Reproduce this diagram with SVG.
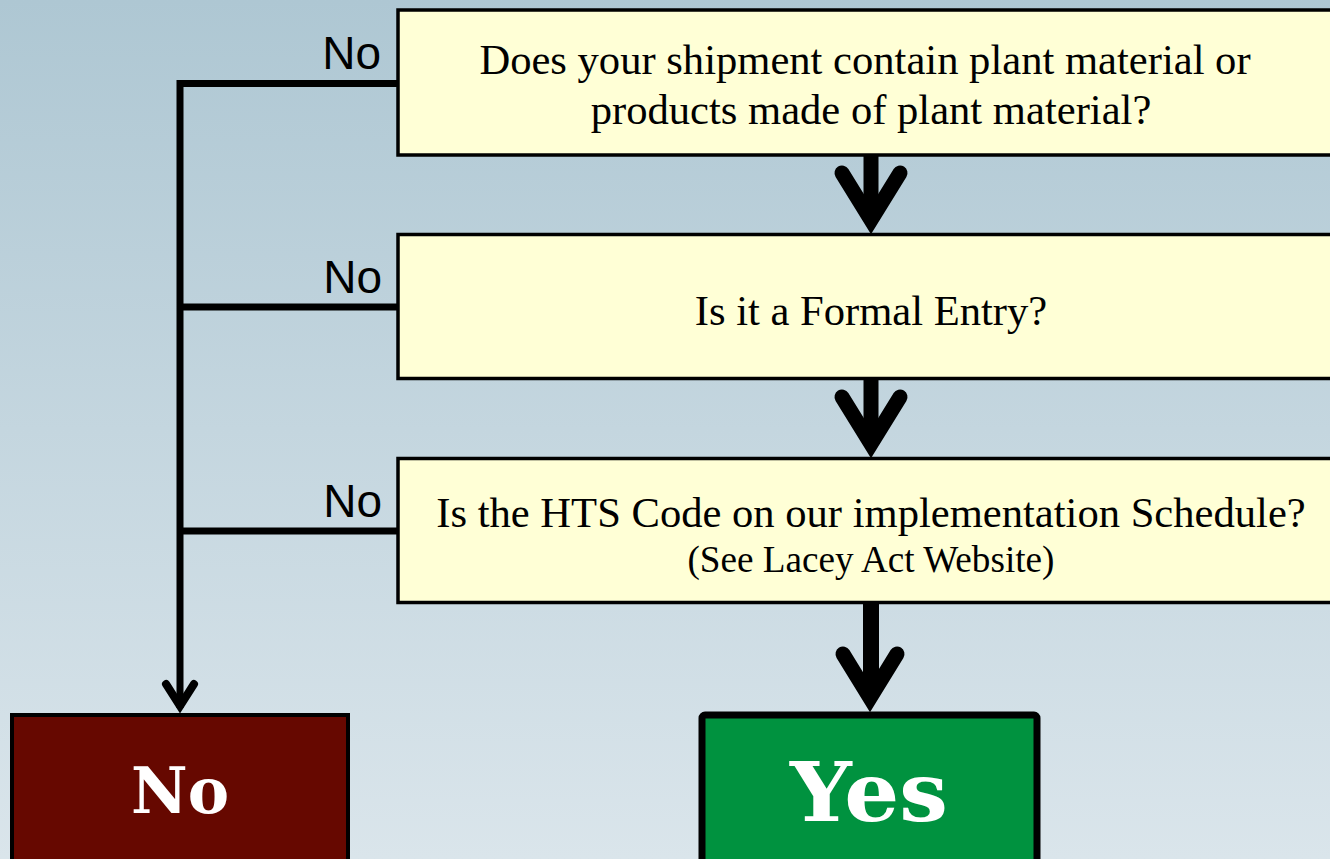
<svg xmlns="http://www.w3.org/2000/svg" width="1330" height="859" viewBox="0 0 1330 859">
<defs>
<linearGradient id="bg" x1="0" y1="0" x2="0" y2="1">
<stop offset="0" stop-color="#aec7d3"/>
<stop offset="1" stop-color="#dae5eb"/>
</linearGradient>
<style>
.q{fill:#ffffd6;stroke:#000;stroke-width:3.5}
.qt{font-family:"Liberation Serif","Times New Roman",serif;font-size:42.6px;fill:#000;text-anchor:middle}
.qs{font-family:"Liberation Serif","Times New Roman",serif;font-size:37.2px;fill:#000;text-anchor:middle}
.lbl{font-family:"Liberation Sans",Arial,sans-serif;font-size:46px;fill:#000;text-anchor:end}
.big{font-family:"DejaVu Serif",serif;font-weight:bold;fill:#fff;text-anchor:middle}
.thin{fill:none;stroke:#000;stroke-width:7;stroke-linejoin:miter}
.thick{fill:none;stroke:#000;stroke-width:15;stroke-linecap:round;stroke-linejoin:miter;stroke-miterlimit:10}
</style>
</defs>
<rect width="1330" height="859" fill="url(#bg)"/>
<g id="connectors">
<polyline class="thin" points="398,83.5 180,83.5 180,708"/>
<line class="thin" x1="180" y1="307" x2="398" y2="307"/>
<line class="thin" x1="180" y1="531" x2="398" y2="531"/>
<polyline fill="none" stroke="#000" stroke-width="8" stroke-linecap="round" stroke-linejoin="miter" points="166,684 180,706 194,684"/>
<line stroke="#000" stroke-width="15" x1="871" y1="155" x2="871" y2="215"/>
<polyline class="thick" points="842,173 871,220 900,173"/>
<line stroke="#000" stroke-width="15" x1="871" y1="378" x2="871" y2="440"/>
<polyline class="thick" points="842,397 871,444 900,397"/>
<line stroke="#000" stroke-width="16" x1="871" y1="602" x2="871" y2="695"/>
<polyline class="thick" points="843,654 870,698 897,654"/>
<text class="lbl" x="381" y="69">No</text>
<text class="lbl" x="382" y="293">No</text>
<text class="lbl" x="382" y="517">No</text>
</g>
<g id="q1">
<rect class="q" x="398" y="10" width="945" height="145"/>
<text class="qt" x="865" y="74">Does your shipment contain plant material or</text>
<text class="qt" x="871" y="124">products made of plant material?</text>
</g>
<g id="q2">
<rect class="q" x="398" y="234.5" width="945" height="144"/>
<text class="qt" x="871" y="325">Is it a Formal Entry?</text>
</g>
<g id="q3">
<rect class="q" x="398" y="458.5" width="945" height="144"/>
<text class="qt" x="871" y="527">Is the HTS Code on our implementation Schedule?</text>
<text class="qs" x="871" y="572">(See Lacey Act Website)</text>
</g>
<g id="no">
<rect x="12" y="715" width="336" height="160" fill="#660800" stroke="#000" stroke-width="4"/>
<text class="big" x="180" y="813" font-size="64" textLength="98" lengthAdjust="spacingAndGlyphs">No</text>
</g>
<g id="yes">
<rect x="702" y="715" width="335" height="160" rx="3" fill="#00923f" stroke="#000" stroke-width="7"/>
<text class="big" x="869" y="821" font-size="82" textLength="158" lengthAdjust="spacingAndGlyphs">Yes</text>
</g>
</svg>
